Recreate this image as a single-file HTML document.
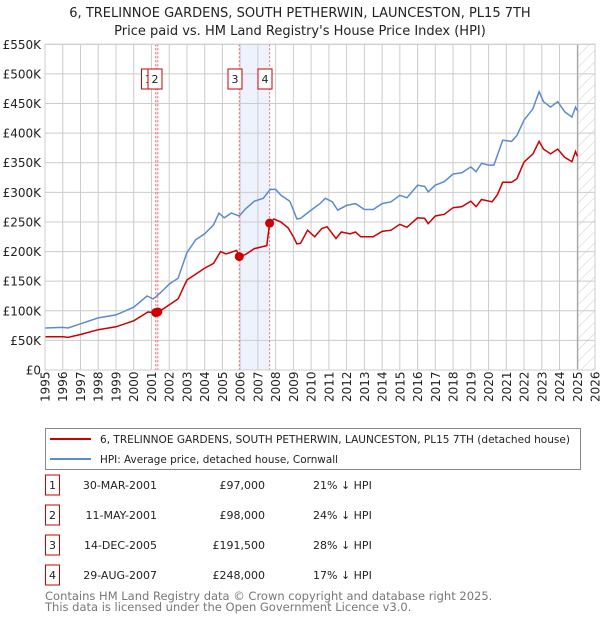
<!DOCTYPE html>
<html><head><meta charset="utf-8">
<style>
body{margin:0;background:#fff;font-family:"Liberation Sans","DejaVu Sans",sans-serif;}
#wrap{position:relative;width:600px;height:620px;overflow:hidden;}
text{font-family:"DejaVu Sans","Liberation Sans",sans-serif;}
</style></head>
<body>
<div id="wrap">
<svg id="chart" width="600" height="620"></svg>
</div>
<script>
const years = [1995,1996,1997,1998,1999,2000,2001,2002,2003,2004,2005,2006,2007,2008,2009,2010,2011,2012,2013,2014,2015,2016,2017,2018,2019,2020,2021,2022,2023,2024,2025,2026];
const yTicks = [0,50,100,150,200,250,300,350,400,450,500,550];
const yTickLabels = ["£0","£50K","£100K","£150K","£200K","£250K","£300K","£350K","£400K","£450K","£500K","£550K"];
const hpiDates = [1995,1996,1996.3,1997,1998,1999,2000,2000.75,2001.1,2001.5,2002,2002.5,2003,2003.5,2004,2004.5,2004.8,2005.1,2005.5,2005.95,2006.3,2006.8,2007.3,2007.7,2008.0,2008.3,2008.8,2009.0,2009.2,2009.4,2010,2010.5,2010.8,2011.2,2011.5,2012,2012.5,2013,2013.5,2014,2014.5,2015,2015.4,2016,2016.4,2016.6,2017,2017.5,2018,2018.5,2019,2019.3,2019.6,2020,2020.3,2020.8,2021.3,2021.6,2022,2022.5,2022.85,2023.1,2023.5,2023.9,2024.3,2024.7,2024.9,2025.0];
const hpiValues = [71,72,71,78,88,93,106,125,120,130,145,155,198,220,230,245,265,257,265,260,272,285,290,305,305,295,285,270,255,256,270,281,290,284,270,278,281,271,271,281,284,295,291,312,310,301,312,318,331,333,343,335,349,346,346,388,386,396,422,441,470,453,444,453,436,427,444,438];
const priceDates = [1995,1996,1996.3,1997,1998,1999,2000,2000.8,2001.24,2001.36,2001.5,2002,2002.5,2003,2003.5,2004,2004.5,2004.9,2005.2,2005.8,2005.95,2006.3,2006.8,2007.5,2007.66,2007.9,2008.3,2008.7,2009.0,2009.2,2009.4,2009.8,2010.2,2010.6,2010.9,2011.4,2011.7,2012.2,2012.5,2012.8,2013.5,2014,2014.5,2015,2015.4,2016,2016.4,2016.6,2017,2017.5,2018,2018.5,2019,2019.3,2019.6,2020.2,2020.5,2020.8,2021.3,2021.6,2022,2022.5,2022.85,2023.1,2023.5,2023.9,2024.3,2024.7,2024.9,2025.0];
const priceValues = [56,56,55,60,68,73,83,98,97,98,100,110,120,152,162,172,180,200,196,202,191.5,195,205,210,248,255,250,240,225,213,214,236,225,239,242,222,233,230,233,225,225,234,236,246,241,257,256,247,260,263,274,276,285,276,288,284,296,317,317,323,351,365,386,373,365,373,359,352,369,361];
const saleIds = ["1","2","3","4"];
const saleDates = [2001.24,2001.36,2005.95,2007.66];
const saleValues = [97,98,191.5,248];
const saleDateLabels = ["30-MAR-2001","11-MAY-2001","14-DEC-2005","29-AUG-2007"];
const salePriceLabels = ["£97,000","£98,000","£191,500","£248,000"];
const saleHpiLabels = ["21% ↓ HPI","24% ↓ HPI","28% ↓ HPI","17% ↓ HPI"];
const dataEnd = 2025.03;

const NS="http://www.w3.org/2000/svg";
const svg=document.getElementById('chart');
const L=45,R=595,T=44.3,B=370;
const x=v=>L+(v-1995)/(2026-1995)*(R-L);
const y=v=>B-v/550*(B-T);
function mk(tag,attrs,parent){const e=document.createElementNS(NS,tag);for(const k in attrs)e.setAttribute(k,attrs[k]);(parent||svg).appendChild(e);return e;}

let t=mk('text',{x:300,y:17,'text-anchor':'middle','font-size':13,fill:'#222'});t.textContent="6, TRELINNOE GARDENS, SOUTH PETHERWIN, LAUNCESTON, PL15 7TH";


t=mk('text',{x:300,y:35,'text-anchor':'middle','font-size':13,fill:'#222'});t.textContent="Price paid vs. HM Land Registry's House Price Index (HPI)";



let s=mk('rect',{x:x(saleDates[0]),y:T,width:x(saleDates[1])-x(saleDates[0]),height:B-T,fill:'#eef2fc'});


s=mk('rect',{x:x(saleDates[2]),y:T,width:x(saleDates[3])-x(saleDates[2]),height:B-T,fill:'#eef2fc'});



const defs=mk('defs',{});
const pat=mk('pattern',{id:'hatch',width:8,height:8,patternUnits:'userSpaceOnUse',patternTransform:'rotate(45)'},defs);
mk('line',{x1:0,y1:0,x2:0,y2:8,stroke:'#ccc','stroke-width':1},pat);
s=mk('rect',{x:x(dataEnd),y:T,width:R-x(dataEnd),height:B-T,fill:'url(#hatch)'});



years.forEach(yr=>{const g=mk('line',{x1:x(yr),x2:x(yr),y1:T,y2:B,stroke:'#ccc','stroke-width':1});


const tx=mk('text',{transform:`translate(${x(yr)+4.5},${B+32}) rotate(-90)`,'font-size':12,fill:'#222'});tx.textContent=yr;

});
yTicks.forEach((v,i)=>{const g=mk('line',{x1:L,x2:R,y1:y(v),y2:y(v),stroke:'#ccc','stroke-width':1});


const tx=mk('text',{x:L-4,y:y(v)+4.5,'text-anchor':'end','font-size':12,fill:'#222'});tx.textContent=yTickLabels[i];

});
s=mk('line',{x1:x(dataEnd),x2:x(dataEnd),y1:T,y2:B,stroke:'#999','stroke-width':1});



saleDates.forEach(d=>{const l=mk('line',{x1:x(d),x2:x(d),y1:T,y2:B,stroke:'#e66','stroke-width':1,'stroke-dasharray':'2,2'});

});

function pts(ds,vs){return ds.map((d,i)=>x(d).toFixed(1)+','+y(vs[i]).toFixed(1)).join(' ');}
let p=mk('polyline',{points:pts(hpiDates,hpiValues),fill:'none',stroke:'#5b8bd0','stroke-width':1.5});


p=mk('polyline',{points:pts(priceDates,priceValues),fill:'none',stroke:'#cc0000','stroke-width':1.5});


saleDates.forEach((d,i)=>{const c=mk('circle',{cx:x(d),cy:y(saleValues[i]),r:4.5,fill:'#cc0000'});

});

const boxX=[148.5,155,235,265];
saleIds.forEach((id,i)=>{const g=mk('g',{});


mk('rect',{x:boxX[i]-7,y:69,width:14,height:20,fill:'#fff',stroke:'#cc0000','stroke-width':1},g);
const tx=mk('text',{x:boxX[i],y:83,'text-anchor':'middle','font-size':11,fill:'#222'},g);tx.textContent=id;});

s=mk('rect',{x:L,y:T,width:R-L,height:B-T,fill:'none',stroke:'#ccc'});



const lg=mk('g',{});


mk('rect',{x:45.5,y:428.5,width:535,height:41,fill:'#fff',stroke:'#888'},lg);
mk('line',{x1:50,x2:91,y1:439,y2:439,stroke:'#cc0000','stroke-width':2},lg);
mk('line',{x1:50,x2:91,y1:459,y2:459,stroke:'#5b8bd0','stroke-width':2},lg);
t=mk('text',{x:100,y:443,'font-size':11,fill:'#222',textLength:470,lengthAdjust:'spacingAndGlyphs'},lg);t.textContent="6, TRELINNOE GARDENS, SOUTH PETHERWIN, LAUNCESTON, PL15 7TH (detached house)";
t=mk('text',{x:100,y:463,'font-size':11,fill:'#222',textLength:238,lengthAdjust:'spacingAndGlyphs'},lg);t.textContent="HPI: Average price, detached house, Cornwall";

saleIds.forEach((id,i)=>{const yy=483+i*30;const g=mk('g',{});


mk('rect',{x:45.5,y:yy-8,width:14,height:20,fill:'#fff',stroke:'#cc0000'},g);
let a=mk('text',{x:52.5,y:yy+6,'text-anchor':'middle','font-size':11,fill:'#222'},g);a.textContent=id;
a=mk('text',{x:157,y:yy+6,'text-anchor':'end','font-size':11,fill:'#222'},g);a.textContent=saleDateLabels[i];
a=mk('text',{x:265,y:yy+6,'text-anchor':'end','font-size':11,fill:'#222'},g);a.textContent=salePriceLabels[i];
a=mk('text',{x:313,y:yy+6,'font-size':11,fill:'#222'},g);a.textContent=saleHpiLabels[i];});

t=mk('text',{x:45,y:600,'font-size':11.5,fill:'#777'});t.textContent="Contains HM Land Registry data © Crown copyright and database right 2025.";


t=mk('text',{x:45,y:611,'font-size':11.5,fill:'#777'});t.textContent="This data is licensed under the Open Government Licence v3.0.";


</script>
</body></html>
